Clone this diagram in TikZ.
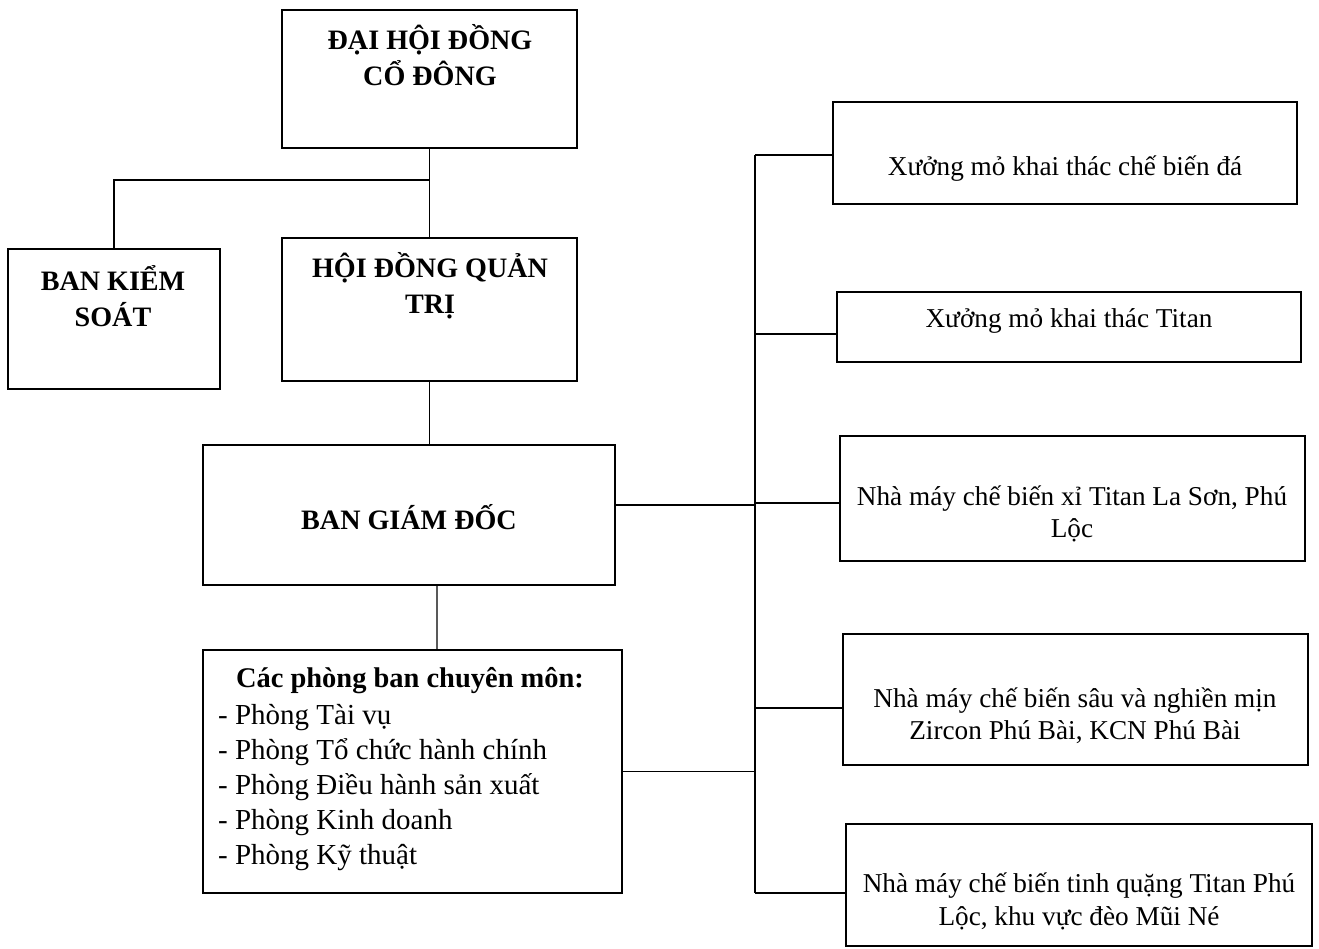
\documentclass[tikz,border=0pt]{standalone}
\usepackage{fontspec}
\setmainfont{Liberation Serif}
\usetikzlibrary{positioning}

\begin{document}
\begin{tikzpicture}[
    x=0.02cm, y=-0.02cm,
    box/.style={
        rectangle,
        draw=black,
        line width=0.9pt,
        inner sep=0pt
    },
    headlabel/.style={
        font=\fontsize{16}{20.5}\selectfont\bfseries,
        align=center
    },
    unitlabel/.style={
        font=\fontsize{15.5}{18.5}\selectfont,
        align=center
    },
    link/.style={
        draw=black,
        line width=0.7pt
    }
]

% Page frame
\useasboundingbox (0,0) rectangle (1319,948);

% Left column boxes
\node[box, minimum width=5.9cm, minimum height=2.76cm] (congress) at (429.5,79) {};
\node[box, minimum width=4.24cm, minimum height=2.8cm] (control) at (114,319) {};
\node[box, minimum width=5.9cm, minimum height=2.86cm] (board) at (429.5,309.5) {};
\node[box, minimum width=8.24cm, minimum height=2.8cm] (directors) at (409,515) {};
\node[box, minimum width=8.38cm, minimum height=4.86cm] (offices) at (412.5,771.5) {};

\node[headlabel] at (430,55.5) {ĐẠI HỘI ĐỒNG\\CỔ ĐÔNG};
\node[headlabel] at (113,296) {BAN KIỂM\\SOÁT};
\node[headlabel] at (430,286) {HỘI ĐỒNG QUẢN\\TRỊ};
\node[headlabel] at (409,517) {BAN GIÁM ĐỐC};
\node[headlabel, font=\fontsize{16.2}{20}\selectfont\bfseries] at (410,681) {Các phòng ban chuyên môn:};
\node[anchor=west, align=left, font=\fontsize{16.5}{20}\selectfont] at (212,787.5) {%
    - Phòng Tài vụ\\
    - Phòng Tổ chức hành chính\\
    - Phòng Điều hành sản xuất\\
    - Phòng Kinh doanh\\
    - Phòng Kỹ thuật};

% Right column boxes
\node[box, minimum width=9.28cm, minimum height=2.04cm] (stone) at (1065,153) {};
\node[box, minimum width=9.28cm, minimum height=1.4cm] (titanmine) at (1069,327) {};
\node[box, minimum width=9.3cm, minimum height=2.5cm] (laslag) at (1072.5,498.5) {};
\node[box, minimum width=9.3cm, minimum height=2.62cm] (zircon) at (1075.5,699.5) {};
\node[box, minimum width=9.32cm, minimum height=2.44cm] (ore) at (1079,885) {};

\node[unitlabel] at (1065,169) {Xưởng mỏ khai thác chế biến đá};
\node[unitlabel] at (1069,321) {Xưởng mỏ khai thác Titan};
\node[unitlabel] at (1072,514) {Nhà máy chế biến xỉ Titan La Sơn, Phú\\Lộc};
\node[unitlabel] at (1075,715.5) {Nhà máy chế biến sâu và nghiền mịn\\Zircon Phú Bài, KCN Phú Bài};
\node[unitlabel] at (1079,901.5) {Nhà máy chế biến tinh quặng Titan Phú\\Lộc, khu vực đèo Mũi Né};

% Connectors
\coordinate (split) at (429.5,180);
\coordinate (bus) at (755,0);
\draw[link] (congress) -- (board);
\draw[link] (split) -| (control.north);
\draw[link] (board.south) -- (board.south |- directors.north);
\draw[link] ([xshift=0.56cm]directors.south) -- ([xshift=0.49cm]offices.north);
\draw[link] ([yshift=-0.04cm]stone.west -| bus) -- ([yshift=-0.16cm]ore.west -| bus);
\draw[link] ([yshift=0.2cm]directors.east) -- ([yshift=0.2cm]directors.east -| bus);
\draw[link] (offices.east) -- (offices.east -| bus);
\foreach \u/\s in {stone/0.04, titanmine/0.14, laslag/0.09, zircon/0.17, ore/0.16}
    \draw[link] ([yshift=-\s cm]\u.west -| bus) -- ([yshift=-\s cm]\u.west);

\end{tikzpicture}
\end{document}
